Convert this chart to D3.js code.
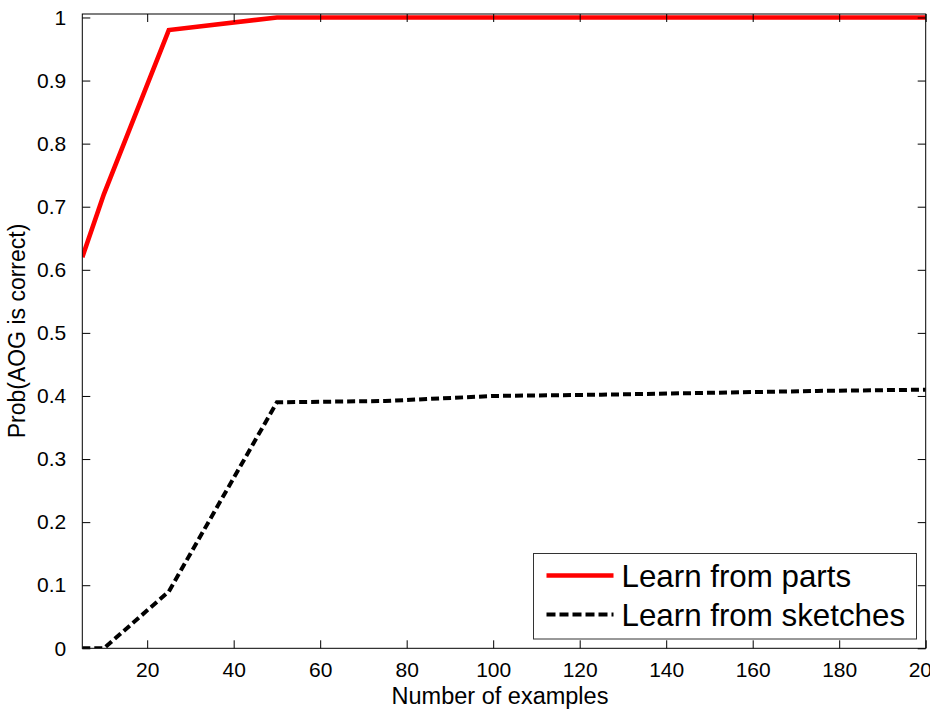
<!DOCTYPE html>
<html>
<head>
<meta charset="utf-8">
<script src="https://cdn.jsdelivr.net/npm/d3@7"></script>
<style>
  body { margin: 0; background: #fff; }
  svg { display: block; font-family: "Liberation Sans", Arial, sans-serif; }
</style>
</head>
<body>
<div id="chart"></div>
<script>
// Data
const examples = [5, 10, 25, 50, 75, 100, 125, 150, 175, 200];
const fromParts = [0.62, 0.72, 0.98, 1, 1, 1, 1, 1, 1, 1];
const fromSketches = [0, 0, 0.09, 0.39, 0.392, 0.40, 0.402, 0.405, 0.408, 0.41];
const xTicks = [20, 40, 60, 80, 100, 120, 140, 160, 180, 200];
const yTicks = [0, 0.1, 0.2, 0.3, 0.4, 0.5, 0.6, 0.7, 0.8, 0.9, 1];
const seriesNames = ["Learn from parts", "Learn from sketches"];

// Dimensions
const W = 930, H = 710;
const margin = { top: 14, right: 4.3, bottom: 61.7, left: 82.3 },
    width = W - margin.left - margin.right,
    height = H - margin.top - margin.bottom;

const svg = d3.select("#chart").append("svg")
    .attr("width", W)
    .attr("height", H);

const g = svg.append("g")
    .attr("transform", "translate(" + margin.left + "," + margin.top + ")");

const x = d3.scaleLinear().domain([5, 200]).range([0, width]);
const y = d3.scaleLinear().domain([0, 1.0055]).range([height, 0]);

// Clip for the lines
g.append("clipPath").attr("id", "plot-clip")
  .append("rect").attr("width", width).attr("height", height);

// Series lines
const line = d3.line()
    .x((d, i) => x(examples[i]))
    .y(d => y(d));

g.append("path")
    .datum(fromSketches)
    .attr("clip-path", "url(#plot-clip)")
    .attr("fill", "none")
    .attr("stroke", "#000")
    .attr("stroke-width", 4)
    .attr("stroke-dasharray", "8,4")
    .attr("d", line);

g.append("path")
    .datum(fromParts)
    .attr("clip-path", "url(#plot-clip)")
    .attr("fill", "none")
    .attr("stroke", "#ff0000")
    .attr("stroke-width", 4.6)
    .attr("d", line);

// Axes, ticks pointing inward on all four sides
const tickLen = 8;
const fontTick = "21px";

const xAxis = g.append("g")
    .attr("transform", "translate(0," + height + ")")
    .call(d3.axisBottom(x).tickValues(xTicks).tickSizeInner(-tickLen).tickSizeOuter(0).tickPadding(14).tickFormat(d3.format("d")));
const xAxisTop = g.append("g")
    .call(d3.axisTop(x).tickValues(xTicks).tickSizeInner(-tickLen).tickSizeOuter(0).tickFormat(""));
const yAxis = g.append("g")
    .call(d3.axisLeft(y).tickValues(yTicks).tickSizeInner(-tickLen).tickSizeOuter(0).tickPadding(16).tickFormat(d => d3.format("~g")(d)));
const yAxisRight = g.append("g")
    .attr("transform", "translate(" + width + ",0)")
    .call(d3.axisRight(y).tickValues(yTicks).tickSizeInner(-tickLen).tickSizeOuter(0).tickFormat(""));

[xAxis, xAxisTop, yAxis, yAxisRight].forEach(a => {
    a.select(".domain").remove();
    a.selectAll(".tick line").attr("stroke", "#000").attr("stroke-width", 1);
    a.selectAll("text")
        .attr("fill", "#000")
        .style("font-size", fontTick)
        .style("font-family", "'Liberation Sans', Arial, sans-serif");
});

// Box
g.append("rect")
    .attr("x", 0).attr("y", 0)
    .attr("width", width).attr("height", height)
    .attr("fill", "none")
    .attr("stroke", "#000")
    .attr("stroke-width", 1);

// Axis titles
svg.append("text")
    .attr("x", 500)
    .attr("y", 704)
    .attr("text-anchor", "middle")
    .style("font-size", "23.5px")
    .text("Number of examples");

svg.append("text")
    .attr("transform", "translate(25,331) rotate(-90)")
    .attr("text-anchor", "middle")
    .style("font-size", "23px")
    .text("Prob(AOG is correct)");

// Legend
const legend = svg.append("g").attr("transform", "translate(533.5,553.5)");
legend.append("rect")
    .attr("width", 383).attr("height", 85.5)
    .attr("fill", "#fff")
    .attr("stroke", "#333")
    .attr("stroke-width", 1);

const legendItems = [
    { name: seriesNames[0], color: "#ff0000", dash: null, w: 4.6 },
    { name: seriesNames[1], color: "#000", dash: "9,4", w: 4 }
];
legendItems.forEach((d, i) => {
    const yy = 22 + i * 39;
    legend.append("line")
        .attr("x1", 13).attr("x2", 80)
        .attr("y1", yy).attr("y2", yy)
        .attr("stroke", d.color)
        .attr("stroke-width", d.w)
        .attr("stroke-dasharray", d.dash);
    legend.append("text")
        .attr("x", 88)
        .attr("y", yy + 11)
        .style("font-size", "31.3px")
        .text(d.name);
});
</script>
</body>
</html>
